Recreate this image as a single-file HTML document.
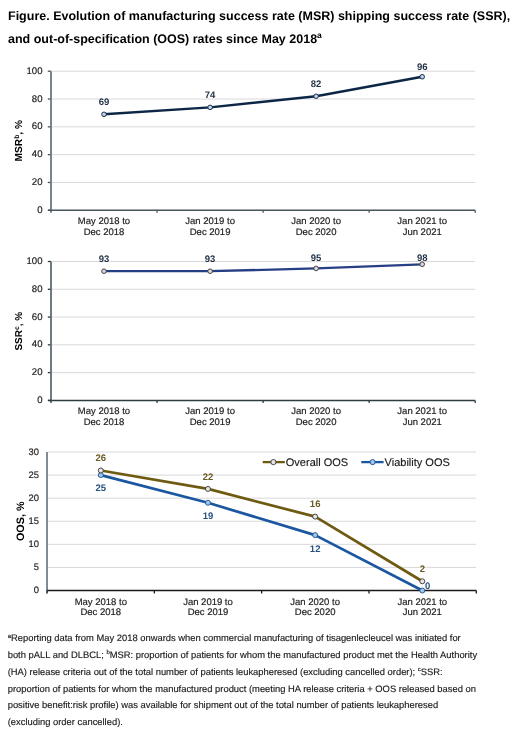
<!DOCTYPE html>
<html><head><meta charset="utf-8"><style>
html,body{margin:0;padding:0;background:#fff;}
#wrap{position:absolute;left:0;top:0;width:520px;height:734px;will-change:transform;}
body{width:520px;height:734px;position:relative;overflow:hidden;font-family:"Liberation Sans", sans-serif;text-rendering:geometricPrecision;}
.t{position:absolute;left:8px;font-weight:bold;font-size:12.5px;color:#000;white-space:nowrap;line-height:15px;}
.fn{position:absolute;left:7.7px;font-size:9.4px;color:#1a1a1a;-webkit-text-stroke:0.15px #1a1a1a;white-space:nowrap;line-height:11px;}
sup{font-size:6px;vertical-align:0;position:relative;top:-3.5px;}
.t sup{font-size:8.5px;top:-4.5px;}
svg{position:absolute;left:0;top:0;}
svg text{font-family:"Liberation Sans", sans-serif;text-rendering:geometricPrecision;}
</style></head><body><div id="wrap">
<div class="t" style="top:9.099999999999998px">Figure. Evolution of manufacturing success rate (MSR) shipping success rate (SSR),</div>
<div class="t" style="top:31.500000000000004px">and out-of-specification (OOS) rates since May 2018<sup>a</sup></div>
<svg width="520" height="734" viewBox="0 0 520 734">
<line x1="47.8" y1="210.3" x2="51" y2="210.3" stroke="#47555f" stroke-width="1.3"/>
<text x="42.5" y="212.9" text-anchor="end" font-size="9.6" fill="#222" stroke="#222" stroke-width="0.18">0</text>
<line x1="52" y1="182.48" x2="475.2" y2="182.48" stroke="#d9d9d9" stroke-width="1"/>
<line x1="47.8" y1="182.48" x2="51" y2="182.48" stroke="#47555f" stroke-width="1.3"/>
<text x="42.5" y="185.08" text-anchor="end" font-size="9.6" fill="#222" stroke="#222" stroke-width="0.18">20</text>
<line x1="52" y1="154.66" x2="475.2" y2="154.66" stroke="#d9d9d9" stroke-width="1"/>
<line x1="47.8" y1="154.66" x2="51" y2="154.66" stroke="#47555f" stroke-width="1.3"/>
<text x="42.5" y="157.26" text-anchor="end" font-size="9.6" fill="#222" stroke="#222" stroke-width="0.18">40</text>
<line x1="52" y1="126.84" x2="475.2" y2="126.84" stroke="#d9d9d9" stroke-width="1"/>
<line x1="47.8" y1="126.84" x2="51" y2="126.84" stroke="#47555f" stroke-width="1.3"/>
<text x="42.5" y="129.44" text-anchor="end" font-size="9.6" fill="#222" stroke="#222" stroke-width="0.18">60</text>
<line x1="52" y1="99.02" x2="475.2" y2="99.02" stroke="#d9d9d9" stroke-width="1"/>
<line x1="47.8" y1="99.02" x2="51" y2="99.02" stroke="#47555f" stroke-width="1.3"/>
<text x="42.5" y="101.62" text-anchor="end" font-size="9.6" fill="#222" stroke="#222" stroke-width="0.18">80</text>
<line x1="52" y1="71.2" x2="475.2" y2="71.2" stroke="#d9d9d9" stroke-width="1"/>
<line x1="47.8" y1="71.2" x2="51" y2="71.2" stroke="#47555f" stroke-width="1.3"/>
<text x="42.5" y="73.8" text-anchor="end" font-size="9.6" fill="#222" stroke="#222" stroke-width="0.18">100</text>
<line x1="51" y1="71.2" x2="51" y2="212.8" stroke="#66757f" stroke-width="1.75"/>
<line x1="48" y1="210.3" x2="475.2" y2="210.3" stroke="#47555f" stroke-width="1.5"/>
<line x1="157.05" y1="210.3" x2="157.05" y2="212.8" stroke="#47555f" stroke-width="1.3"/>
<line x1="263.1" y1="210.3" x2="263.1" y2="212.8" stroke="#47555f" stroke-width="1.3"/>
<line x1="369.15" y1="210.3" x2="369.15" y2="212.8" stroke="#47555f" stroke-width="1.3"/>
<line x1="475.2" y1="210.3" x2="475.2" y2="212.8" stroke="#47555f" stroke-width="1.3"/>
<text x="104" y="224.1" text-anchor="middle" font-size="9.5" fill="#222" stroke="#222" stroke-width="0.18">May 2018 to</text>
<text x="104" y="234.5" text-anchor="middle" font-size="9.5" fill="#222" stroke="#222" stroke-width="0.18">Dec 2018</text>
<text x="210.1" y="224.1" text-anchor="middle" font-size="9.5" fill="#222" stroke="#222" stroke-width="0.18">Jan 2019 to</text>
<text x="210.1" y="234.5" text-anchor="middle" font-size="9.5" fill="#222" stroke="#222" stroke-width="0.18">Dec 2019</text>
<text x="316.1" y="224.1" text-anchor="middle" font-size="9.5" fill="#222" stroke="#222" stroke-width="0.18">Jan 2020 to</text>
<text x="316.1" y="234.5" text-anchor="middle" font-size="9.5" fill="#222" stroke="#222" stroke-width="0.18">Dec 2020</text>
<text x="422.2" y="224.1" text-anchor="middle" font-size="9.5" fill="#222" stroke="#222" stroke-width="0.18">Jan 2021 to</text>
<text x="422.2" y="234.5" text-anchor="middle" font-size="9.5" fill="#222" stroke="#222" stroke-width="0.18">Jun 2021</text>
<path d="M104 114.32 L210.1 107.37 L316.1 96.24 L422.2 76.76" fill="none" stroke="#0c2646" stroke-width="2.4" stroke-linejoin="round"/>
<circle cx="104" cy="114.32" r="2.3" fill="#c4d3e8" stroke="#0c2646" stroke-width="0.95"/>
<circle cx="210.1" cy="107.37" r="2.3" fill="#c4d3e8" stroke="#0c2646" stroke-width="0.95"/>
<circle cx="316.1" cy="96.24" r="2.3" fill="#c4d3e8" stroke="#0c2646" stroke-width="0.95"/>
<circle cx="422.2" cy="76.76" r="2.3" fill="#c4d3e8" stroke="#0c2646" stroke-width="0.95"/>
<text x="104" y="105" text-anchor="middle" font-size="9.5" font-weight="bold" fill="#1f2f45">69</text>
<text x="210.1" y="98.2" text-anchor="middle" font-size="9.5" font-weight="bold" fill="#1f2f45">74</text>
<text x="316.1" y="87.2" text-anchor="middle" font-size="9.5" font-weight="bold" fill="#1f2f45">82</text>
<text x="422.2" y="70.1" text-anchor="middle" font-size="9.5" font-weight="bold" fill="#1f2f45">96</text>
<text transform="translate(22.2,140.7) rotate(-90)" text-anchor="middle" font-size="10.2" font-weight="bold" fill="#000">MSR<tspan font-size="6.8" dy="-2.9">b</tspan><tspan dy="2.9">, %</tspan></text>
<line x1="47.8" y1="400.4" x2="51" y2="400.4" stroke="#2d3d40" stroke-width="1.3"/>
<text x="42.5" y="403" text-anchor="end" font-size="9.6" fill="#222" stroke="#222" stroke-width="0.18">0</text>
<line x1="52" y1="372.62" x2="475.2" y2="372.62" stroke="#d9d9d9" stroke-width="1"/>
<line x1="47.8" y1="372.62" x2="51" y2="372.62" stroke="#2d3d40" stroke-width="1.3"/>
<text x="42.5" y="375.22" text-anchor="end" font-size="9.6" fill="#222" stroke="#222" stroke-width="0.18">20</text>
<line x1="52" y1="344.84" x2="475.2" y2="344.84" stroke="#d9d9d9" stroke-width="1"/>
<line x1="47.8" y1="344.84" x2="51" y2="344.84" stroke="#2d3d40" stroke-width="1.3"/>
<text x="42.5" y="347.44" text-anchor="end" font-size="9.6" fill="#222" stroke="#222" stroke-width="0.18">40</text>
<line x1="52" y1="317.06" x2="475.2" y2="317.06" stroke="#d9d9d9" stroke-width="1"/>
<line x1="47.8" y1="317.06" x2="51" y2="317.06" stroke="#2d3d40" stroke-width="1.3"/>
<text x="42.5" y="319.66" text-anchor="end" font-size="9.6" fill="#222" stroke="#222" stroke-width="0.18">60</text>
<line x1="52" y1="289.28" x2="475.2" y2="289.28" stroke="#d9d9d9" stroke-width="1"/>
<line x1="47.8" y1="289.28" x2="51" y2="289.28" stroke="#2d3d40" stroke-width="1.3"/>
<text x="42.5" y="291.88" text-anchor="end" font-size="9.6" fill="#222" stroke="#222" stroke-width="0.18">80</text>
<line x1="52" y1="261.5" x2="475.2" y2="261.5" stroke="#d9d9d9" stroke-width="1"/>
<line x1="47.8" y1="261.5" x2="51" y2="261.5" stroke="#2d3d40" stroke-width="1.3"/>
<text x="42.5" y="264.1" text-anchor="end" font-size="9.6" fill="#222" stroke="#222" stroke-width="0.18">100</text>
<line x1="51" y1="261.5" x2="51" y2="402.9" stroke="#56686c" stroke-width="1.75"/>
<line x1="48" y1="400.4" x2="475.2" y2="400.4" stroke="#2d3d40" stroke-width="1.5"/>
<line x1="157.05" y1="400.4" x2="157.05" y2="402.9" stroke="#2d3d40" stroke-width="1.3"/>
<line x1="263.1" y1="400.4" x2="263.1" y2="402.9" stroke="#2d3d40" stroke-width="1.3"/>
<line x1="369.15" y1="400.4" x2="369.15" y2="402.9" stroke="#2d3d40" stroke-width="1.3"/>
<line x1="475.2" y1="400.4" x2="475.2" y2="402.9" stroke="#2d3d40" stroke-width="1.3"/>
<text x="104" y="414.4" text-anchor="middle" font-size="9.5" fill="#222" stroke="#222" stroke-width="0.18">May 2018 to</text>
<text x="104" y="424.8" text-anchor="middle" font-size="9.5" fill="#222" stroke="#222" stroke-width="0.18">Dec 2018</text>
<text x="210.1" y="414.4" text-anchor="middle" font-size="9.5" fill="#222" stroke="#222" stroke-width="0.18">Jan 2019 to</text>
<text x="210.1" y="424.8" text-anchor="middle" font-size="9.5" fill="#222" stroke="#222" stroke-width="0.18">Dec 2019</text>
<text x="316.1" y="414.4" text-anchor="middle" font-size="9.5" fill="#222" stroke="#222" stroke-width="0.18">Jan 2020 to</text>
<text x="316.1" y="424.8" text-anchor="middle" font-size="9.5" fill="#222" stroke="#222" stroke-width="0.18">Dec 2020</text>
<text x="422.2" y="414.4" text-anchor="middle" font-size="9.5" fill="#222" stroke="#222" stroke-width="0.18">Jan 2021 to</text>
<text x="422.2" y="424.8" text-anchor="middle" font-size="9.5" fill="#222" stroke="#222" stroke-width="0.18">Jun 2021</text>
<path d="M104 271.22 L210.1 271.22 L316.1 268.44 L422.2 264.28" fill="none" stroke="#263e84" stroke-width="2.3" stroke-linejoin="round"/>
<circle cx="104" cy="271.22" r="2.3" fill="#ddd8d8" stroke="#3a3a3a" stroke-width="0.95"/>
<circle cx="210.1" cy="271.22" r="2.3" fill="#ddd8d8" stroke="#3a3a3a" stroke-width="0.95"/>
<circle cx="316.1" cy="268.44" r="2.3" fill="#ddd8d8" stroke="#3a3a3a" stroke-width="0.95"/>
<circle cx="422.2" cy="264.28" r="2.3" fill="#ddd8d8" stroke="#3a3a3a" stroke-width="0.95"/>
<text x="104" y="261.5" text-anchor="middle" font-size="9.5" font-weight="bold" fill="#1f2f45">93</text>
<text x="210.1" y="261.6" text-anchor="middle" font-size="9.5" font-weight="bold" fill="#1f2f45">93</text>
<text x="316.1" y="260.6" text-anchor="middle" font-size="9.5" font-weight="bold" fill="#1f2f45">95</text>
<text x="422.2" y="260.5" text-anchor="middle" font-size="9.5" font-weight="bold" fill="#1f2f45">98</text>
<text transform="translate(22.2,331.2) rotate(-90)" text-anchor="middle" font-size="10" font-weight="bold" fill="#000">SSR<tspan font-size="6.8" dy="-2.9">c</tspan><tspan dy="2.9">, %</tspan></text>
<text x="38.9" y="593.1" text-anchor="end" font-size="9.4" fill="#222" stroke="#222" stroke-width="0.18">0</text>
<line x1="48" y1="567.42" x2="476.3" y2="567.42" stroke="#d9d9d9" stroke-width="1"/>
<text x="38.9" y="570.02" text-anchor="end" font-size="9.4" fill="#222" stroke="#222" stroke-width="0.18">5</text>
<line x1="48" y1="544.33" x2="476.3" y2="544.33" stroke="#d9d9d9" stroke-width="1"/>
<text x="38.9" y="546.93" text-anchor="end" font-size="9.4" fill="#222" stroke="#222" stroke-width="0.18">10</text>
<line x1="48" y1="521.25" x2="476.3" y2="521.25" stroke="#d9d9d9" stroke-width="1"/>
<text x="38.9" y="523.85" text-anchor="end" font-size="9.4" fill="#222" stroke="#222" stroke-width="0.18">15</text>
<line x1="48" y1="498.17" x2="476.3" y2="498.17" stroke="#d9d9d9" stroke-width="1"/>
<text x="38.9" y="500.77" text-anchor="end" font-size="9.4" fill="#222" stroke="#222" stroke-width="0.18">20</text>
<line x1="48" y1="475.08" x2="476.3" y2="475.08" stroke="#d9d9d9" stroke-width="1"/>
<text x="38.9" y="477.68" text-anchor="end" font-size="9.4" fill="#222" stroke="#222" stroke-width="0.18">25</text>
<line x1="48" y1="452" x2="476.3" y2="452" stroke="#d9d9d9" stroke-width="1"/>
<text x="38.9" y="454.6" text-anchor="end" font-size="9.4" fill="#222" stroke="#222" stroke-width="0.18">30</text>
<line x1="47" y1="452" x2="47" y2="590.5" stroke="#6d7c88" stroke-width="1.75"/>
<line x1="47" y1="590.5" x2="47" y2="593.5" stroke="#1a1a1a" stroke-width="1.5"/>
<line x1="47" y1="590.5" x2="476.3" y2="590.5" stroke="#1a1a1a" stroke-width="1.5"/>
<line x1="154.32" y1="590.5" x2="154.32" y2="593.5" stroke="#1a1a1a" stroke-width="1.3"/>
<line x1="261.65" y1="590.5" x2="261.65" y2="593.5" stroke="#1a1a1a" stroke-width="1.3"/>
<line x1="368.98" y1="590.5" x2="368.98" y2="593.5" stroke="#1a1a1a" stroke-width="1.3"/>
<line x1="476.3" y1="590.5" x2="476.3" y2="593.5" stroke="#1a1a1a" stroke-width="1.3"/>
<text x="100.8" y="605.2" text-anchor="middle" font-size="9.5" fill="#222" stroke="#222" stroke-width="0.18">May 2018 to</text>
<text x="100.8" y="615.4" text-anchor="middle" font-size="9.5" fill="#222" stroke="#222" stroke-width="0.18">Dec 2018</text>
<text x="207.97" y="605.2" text-anchor="middle" font-size="9.5" fill="#222" stroke="#222" stroke-width="0.18">Jan 2019 to</text>
<text x="207.97" y="615.4" text-anchor="middle" font-size="9.5" fill="#222" stroke="#222" stroke-width="0.18">Dec 2019</text>
<text x="315.14" y="605.2" text-anchor="middle" font-size="9.5" fill="#222" stroke="#222" stroke-width="0.18">Jan 2020 to</text>
<text x="315.14" y="615.4" text-anchor="middle" font-size="9.5" fill="#222" stroke="#222" stroke-width="0.18">Dec 2020</text>
<text x="422.31" y="605.2" text-anchor="middle" font-size="9.5" fill="#222" stroke="#222" stroke-width="0.18">Jan 2021 to</text>
<text x="422.31" y="615.4" text-anchor="middle" font-size="9.5" fill="#222" stroke="#222" stroke-width="0.18">Jun 2021</text>
<path d="M100.8 475.08 L207.97 502.78 L315.14 535.1 L422.31 590.5" fill="none" stroke="#1b57a0" stroke-width="2.7" stroke-linejoin="round"/>
<path d="M100.8 470.47 L207.97 488.93 L315.14 516.63 L422.31 581.27" fill="none" stroke="#6e5a10" stroke-width="2.7" stroke-linejoin="round"/>
<circle cx="100.8" cy="475.08" r="2.5" fill="#9cc7ee" stroke="#1c4f88" stroke-width="0.9"/>
<circle cx="207.97" cy="502.78" r="2.5" fill="#9cc7ee" stroke="#1c4f88" stroke-width="0.9"/>
<circle cx="315.14" cy="535.1" r="2.5" fill="#9cc7ee" stroke="#1c4f88" stroke-width="0.9"/>
<circle cx="422.31" cy="590.5" r="2.5" fill="#9cc7ee" stroke="#1c4f88" stroke-width="0.9"/>
<circle cx="100.8" cy="470.47" r="2.5" fill="#e6e6e6" stroke="#333333" stroke-width="0.9"/>
<circle cx="207.97" cy="488.93" r="2.5" fill="#e6e6e6" stroke="#333333" stroke-width="0.9"/>
<circle cx="315.14" cy="516.63" r="2.5" fill="#e6e6e6" stroke="#333333" stroke-width="0.9"/>
<circle cx="422.31" cy="581.27" r="2.5" fill="#e6e6e6" stroke="#333333" stroke-width="0.9"/>
<text x="100.8" y="461.1" text-anchor="middle" font-size="9.5" font-weight="bold" fill="#685a22">26</text>
<text x="207.97" y="479.7" text-anchor="middle" font-size="9.5" font-weight="bold" fill="#685a22">22</text>
<text x="315.14" y="507.4" text-anchor="middle" font-size="9.5" font-weight="bold" fill="#685a22">16</text>
<text x="422.31" y="571.8" text-anchor="middle" font-size="9.5" font-weight="bold" fill="#685a22">2</text>
<text x="100.8" y="491" text-anchor="middle" font-size="9.5" font-weight="bold" fill="#28517e">25</text>
<text x="207.97" y="519" text-anchor="middle" font-size="9.5" font-weight="bold" fill="#28517e">19</text>
<text x="315.14" y="551.7" text-anchor="middle" font-size="9.5" font-weight="bold" fill="#28517e">12</text>
<text x="427.7" y="589.1" text-anchor="middle" font-size="9.5" font-weight="bold" fill="#28517e">0</text>
<text transform="translate(24.2,521.3) rotate(-90)" text-anchor="middle" font-size="10.8" font-weight="bold" fill="#000">OOS, %</text>
<line x1="262.7" y1="462.1" x2="284.8" y2="462.1" stroke="#6e5a10" stroke-width="2.3"/>
<circle cx="273.4" cy="462.1" r="2.6" fill="#e6e6e6" stroke="#333" stroke-width="0.9"/>
<text x="285.8" y="465.8" font-size="11" fill="#1a1a1a" stroke="#1a1a1a" stroke-width="0.15">Overall OOS</text>
<line x1="361.3" y1="462.1" x2="383.6" y2="462.1" stroke="#1b57a0" stroke-width="2.3"/>
<circle cx="372.6" cy="462.1" r="2.6" fill="#9cc7ee" stroke="#1c4f88" stroke-width="0.9"/>
<text x="384.6" y="465.8" font-size="11" fill="#1a1a1a" stroke="#1a1a1a" stroke-width="0.15">Viability OOS</text>
</svg>
<div class="fn" style="top:632.2px"><sup>a</sup>Reporting data from May 2018 onwards when commercial manufacturing of tisagenlecleucel was initiated for</div>
<div class="fn" style="top:648.6px">both pALL and DLBCL; <sup>b</sup>MSR: proportion of patients for whom the manufactured product met the Health Authority</div>
<div class="fn" style="top:665.7px">(HA) release criteria out of the total number of patients leukapheresed (excluding cancelled order); <sup>c</sup>SSR:</div>
<div class="fn" style="top:682.6px">proportion of patients for whom the manufactured product (meeting HA release criteria + OOS released based on</div>
<div class="fn" style="top:699.1px">positive benefit:risk profile) was available for shipment out of the total number of patients leukapheresed</div>
<div class="fn" style="top:716.3px">(excluding order cancelled).</div>
</div></body></html>
